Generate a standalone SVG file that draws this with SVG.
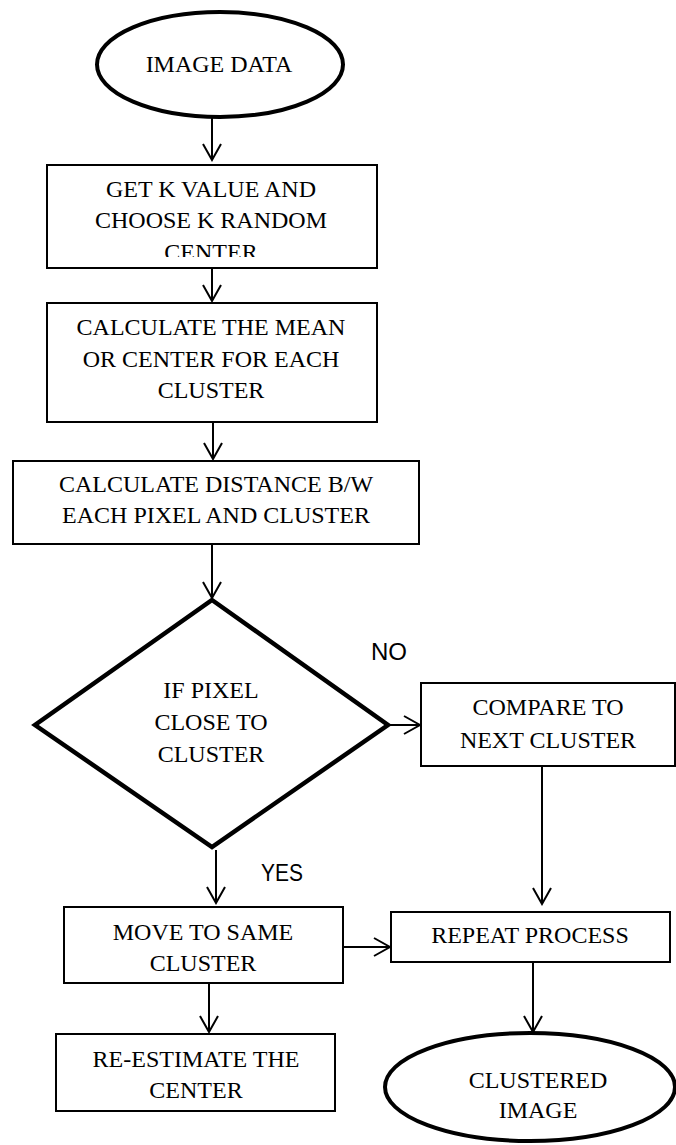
<svg xmlns="http://www.w3.org/2000/svg" width="676" height="1145" viewBox="0 0 676 1145">
<style>
.box{fill:#fff;stroke:#000;stroke-width:2}
.term{fill:#fff;stroke:#000;stroke-width:4}
.dec{fill:#fff;stroke:#000;stroke-width:4.5;stroke-linejoin:miter}
.t{font-family:"Liberation Serif","Times New Roman",serif;font-size:24px;fill:#000;text-anchor:middle}
.lab{font-family:"Liberation Sans",Arial,sans-serif;font-size:23px;fill:#000}
.con{fill:none;stroke:#000;stroke-width:2;marker-end:url(#arr)}
</style>
<defs>
<marker id="arr" markerUnits="userSpaceOnUse" viewBox="-19 -11 21 22" markerWidth="21" markerHeight="22" refX="0" refY="0" orient="auto">
<path d="M-16,-9 L0,0 L-16,9" fill="none" stroke="#000" stroke-width="2"/>
</marker>
<clipPath id="clip1"><rect x="47" y="165" width="330" height="92"/></clipPath>
</defs>
<rect width="676" height="1145" fill="#fff"/>

<g id="connectors">
<line class="con" x1="212" y1="118" x2="212" y2="160"/>
<line class="con" x1="212" y1="268" x2="212" y2="301"/>
<line class="con" x1="213" y1="422" x2="213" y2="459"/>
<line class="con" x1="212" y1="544" x2="212" y2="598"/>
<line class="con" x1="390" y1="725" x2="420" y2="725"/>
<line class="con" x1="542" y1="766" x2="542" y2="904"/>
<line class="con" x1="216" y1="850" x2="216" y2="903"/>
<line class="con" x1="343" y1="947" x2="390" y2="947"/>
<line class="con" x1="209" y1="983" x2="209" y2="1032"/>
<line class="con" x1="533" y1="962" x2="533" y2="1032"/>
</g>

<g id="n-image-data">
<ellipse class="term" cx="220" cy="64.5" rx="123" ry="52.5"/>
<text class="t" x="219" y="72">IMAGE DATA</text>
</g>

<g id="n-get-k">
<rect class="box" x="47" y="165" width="330" height="103"/>
<text class="t" x="211" y="197">GET K VALUE AND</text>
<text class="t" x="211" y="228">CHOOSE K RANDOM</text>
<text class="t" x="211" y="260" clip-path="url(#clip1)">CENTER</text>
</g>

<g id="n-mean">
<rect class="box" x="47" y="303" width="330" height="119"/>
<text class="t" x="211" y="335">CALCULATE THE MEAN</text>
<text class="t" x="211" y="367">OR CENTER FOR EACH</text>
<text class="t" x="211" y="398">CLUSTER</text>
</g>

<g id="n-distance">
<rect class="box" x="13" y="461" width="406" height="83"/>
<text class="t" x="216" y="492">CALCULATE DISTANCE B/W</text>
<text class="t" x="216" y="523">EACH PIXEL AND CLUSTER</text>
</g>

<g id="n-decision">
<polygon class="dec" points="212,600 388,725 212,847 35,725"/>
<text class="t" x="211" y="698">IF PIXEL</text>
<text class="t" x="211" y="730">CLOSE TO</text>
<text class="t" x="211" y="762">CLUSTER</text>
</g>

<g id="n-compare">
<rect class="box" x="421" y="683" width="254" height="83"/>
<text class="t" x="548" y="715">COMPARE TO</text>
<text class="t" x="548" y="748">NEXT CLUSTER</text>
</g>

<g id="n-move">
<rect class="box" x="64" y="907" width="279" height="76"/>
<text class="t" x="203" y="940">MOVE TO SAME</text>
<text class="t" x="203" y="971">CLUSTER</text>
</g>

<g id="n-repeat">
<rect class="box" x="391" y="912" width="279" height="50"/>
<text class="t" x="530" y="943">REPEAT PROCESS</text>
</g>

<g id="n-reestimate">
<rect class="box" x="56" y="1034" width="279" height="77"/>
<text class="t" x="196" y="1067">RE-ESTIMATE THE</text>
<text class="t" x="196" y="1098">CENTER</text>
</g>

<g id="n-clustered">
<ellipse class="term" cx="530" cy="1087" rx="145" ry="54"/>
<text class="t" x="538" y="1088">CLUSTERED</text>
<text class="t" x="538" y="1118">IMAGE</text>
</g>

<g id="labels">
<text class="lab" x="371" y="660" textLength="36" lengthAdjust="spacingAndGlyphs">NO</text>
<text class="lab" x="261" y="881" textLength="42" lengthAdjust="spacingAndGlyphs">YES</text>
</g>
</svg>
